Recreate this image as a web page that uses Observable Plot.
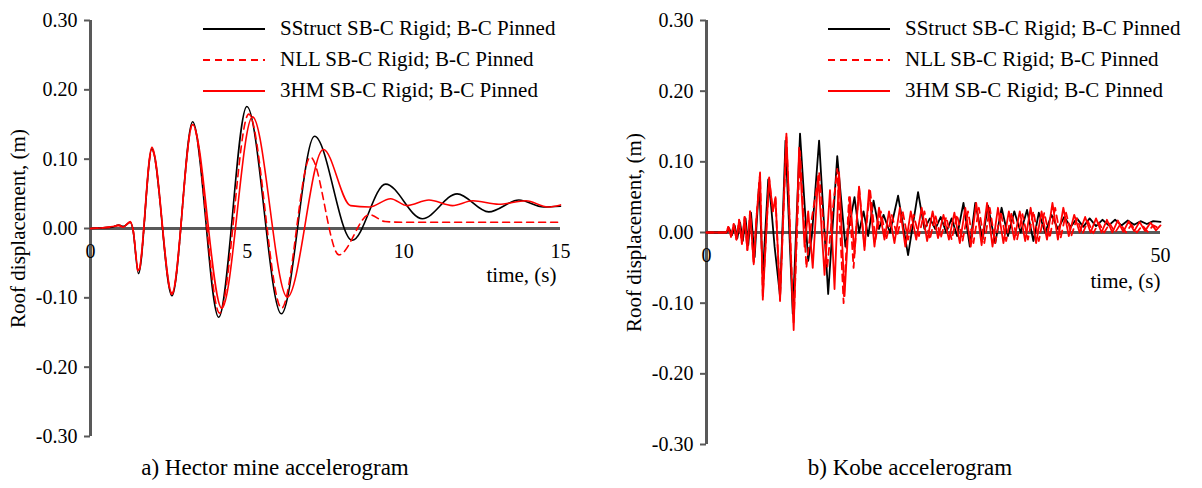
<!DOCTYPE html>
<html>
<head>
<meta charset="utf-8">
<script src="https://cdn.jsdelivr.net/npm/d3@7"></script>
<script src="https://cdn.jsdelivr.net/npm/@observablehq/plot@0.6"></script>
<style>
  html, body { margin: 0; padding: 0; background: #fff; }
  body { font-family: "Liberation Serif", "Times New Roman", serif; color: #000; }
  #wrap { position: relative; width: 1202px; height: 488px; overflow: hidden; }
  .panel { position: absolute; top: 0; width: 601px; height: 488px; }
  .panel svg { display: block; font-family: "Liberation Serif", "Times New Roman", serif !important; }
  .caption { position: absolute; top: 453px; font-size: 23px; line-height: 30px; white-space: nowrap; transform: translateX(-50%); }
  .legend { position: absolute; top: 13px; font-size: 21px; }
  .legend .row { display: flex; align-items: center; height: 31px; white-space: nowrap; }
  .legend svg { margin-right: 15px; }
</style>
</head>
<body>
<div id="wrap">
  <div class="panel" id="pa" style="left:0"></div>
  <div class="panel" id="pb" style="left:601px"></div>
</div>
<script>
// ---------- data ----------
const seriesNames = ["SStruct SB-C Rigid; B-C Pinned", "NLL SB-C Rigid; B-C Pinned", "3HM SB-C Rigid; B-C Pinned"];
const seriesColors = ["#000000", "#ff0000", "#ff0000"];
const seriesDash = [null, "7,5", null];
const yTicks = [-0.30, -0.20, -0.10, 0.00, 0.10, 0.20, 0.30];
const yTitle = "Roof displacement, (m)";
const xTitle = "time, (s)";

// a) Hector mine  [time (s), roof displacement (m)]
const hectorXTicks = [0, 5, 10, 15];
const hectorSStruct = [[0,0],[0.4,0.001],[0.7,0.002],[0.9,0.005],[1.05,0.003],[1.27,0.009],[1.35,0],[1.53,-0.065],[1.96,0.115],[2.6,-0.097],[3.26,0.154],[4.09,-0.128],[4.99,0.176],[6.09,-0.123],[7.15,0.133],[8.35,-0.017],[9.42,0.064],[10.59,0.014],[11.7,0.05],[12.71,0.024],[13.67,0.041],[14.46,0.031],[15,0.032]];
const hectorNLL = [[0,0],[0.4,0.001],[0.7,0.002],[0.9,0.005],[1.05,0.003],[1.27,0.009],[1.35,0],[1.53,-0.063],[1.96,0.113],[2.6,-0.095],[3.26,0.15],[4.12,-0.122],[5.05,0.165],[6.1,-0.115],[7.02,0.103],[7.93,-0.038],[8.9,0.02],[9.4,0.01],[10,0.009],[15,0.009]];
const hector3HM = [[0,0],[0.4,0.001],[0.7,0.003],[0.9,0.004],[1.05,0.002],[1.27,0.01],[1.35,0],[1.53,-0.06],[1.96,0.117],[2.6,-0.093],[3.26,0.15],[4.19,-0.115],[5.17,0.161],[6.28,-0.099],[7.43,0.114],[8.3,0.033],[8.9,0.031],[9.58,0.043],[10.1,0.033],[10.8,0.041],[11.55,0.033],[12.2,0.04],[13.03,0.035],[13.9,0.04],[14.6,0.031],[15,0.034]];

// b) Kobe  [time (s), roof displacement (m)]
const kobeXTicks = [0, 50];
const kobeSStruct = [[0,0],[2.2,0],[2.5,0.006],[2.8,-0.004],[3.1,0.01],[3.4,-0.008],[3.7,0.014],[4.0,-0.012],[4.3,0.02],[4.6,-0.018],[4.9,0.028],[5.3,-0.035],[5.8,0.07],[6.2,-0.06],[6.8,0.075],[7.1,0.04],[7.5,-0.02],[8.1,-0.09],[8.7,0.13],[9.5,-0.115],[10.3,0.14],[11.2,-0.04],[11.6,-0.005],[12.4,0.13],[13.4,-0.087],[14.4,0.108],[15.3,-0.02],[16.3,0.05],[16.8,0.0],[17.3,0.03],[17.8,-0.005],[18.4,0.045],[19.0,0.005],[19.5,0.025],[20.2,0.0],[21.1,0.052],[22.2,-0.032],[23.3,0.057],[24.0,0.005],[24.6,0.02],[25.2,0.005],[25.8,0.022],[26.4,0.0],[27.0,0.02],[27.6,-0.005],[28.3,0.042],[29.0,-0.02],[29.6,0.042],[30.4,-0.01],[31.0,0.038],[31.8,-0.015],[32.5,0.035],[33.2,-0.005],[33.9,0.03],[34.6,0.0],[35.3,0.032],[36.0,-0.012],[36.6,0.028],[37.3,0.0],[38.0,0.025],[38.7,0.005],[39.4,0.022],[40.1,0.008],[40.8,0.02],[41.5,0.008],[42.2,0.02],[42.9,0.009],[43.6,0.018],[44.3,0.01],[45.0,0.018],[45.7,0.01],[46.4,0.017],[47.1,0.011],[47.8,0.016],[48.5,0.012],[49.2,0.016],[50,0.015]];
const kobeNLL = [[0,0],[2.2,0],[2.4,0.008],[2.7,-0.006],[3.0,0.012],[3.3,-0.01],[3.6,0.018],[3.9,-0.016],[4.2,0.022],[4.5,-0.025],[4.8,0.03],[5.2,-0.045],[5.5,0.02],[5.9,0.083],[6.2,-0.09],[6.9,0.076],[7.3,0.03],[7.6,0.048],[8.1,-0.095],[8.8,0.135],[9.6,-0.13],[10.3,0.115],[11.0,-0.05],[11.6,0.02],[12.4,0.085],[13.3,-0.05],[13.8,0.02],[14.4,0.09],[15.1,-0.1],[15.7,0.05],[16.2,-0.05],[16.8,0.065],[17.4,-0.02],[18.0,0.062],[18.6,-0.01],[19.2,0.03],[19.8,-0.01],[20.4,0.025],[21.0,-0.005],[21.6,0.03],[22.2,-0.01],[22.8,0.025],[23.4,-0.005],[24.0,0.03],[24.6,-0.01],[25.2,0.025],[25.8,-0.008],[26.4,0.022],[27.0,-0.01],[27.6,0.025],[28.2,-0.012],[28.8,0.03],[29.4,-0.015],[30.0,0.035],[30.6,-0.015],[31.2,0.035],[31.8,-0.015],[32.4,0.03],[33.0,-0.012],[33.6,0.028],[34.2,-0.01],[34.8,0.026],[35.4,-0.01],[36.0,0.03],[36.6,-0.012],[37.2,0.028],[37.8,-0.008],[38.4,0.035],[39.0,-0.008],[39.6,0.028],[40.2,-0.004],[40.8,0.02],[41.4,-0.002],[42.0,0.016],[42.6,-0.001],[43.2,0.014],[43.8,0.0],[44.4,0.013],[45.0,0.0],[45.6,0.012],[46.2,0.0],[46.8,0.011],[47.4,0.0],[48.0,0.01],[48.6,0.001],[49.2,0.01],[50,0.005]];
const kobe3HM = [[0,0],[2.2,0],[2.4,0.008],[2.7,-0.006],[3.0,0.012],[3.3,-0.01],[3.6,0.018],[3.9,-0.016],[4.2,0.022],[4.5,-0.025],[4.8,0.03],[5.2,-0.045],[5.5,0.02],[5.9,0.085],[6.2,-0.095],[6.9,0.078],[7.3,0.03],[7.6,0.05],[8.1,-0.097],[8.8,0.14],[9.6,-0.138],[10.2,0.12],[10.8,-0.02],[11.2,0.03],[11.7,-0.05],[12.3,0.08],[13.0,-0.06],[13.6,0.06],[14.1,-0.08],[14.6,0.085],[15.2,-0.09],[15.8,0.05],[16.3,-0.03],[16.8,0.065],[17.4,-0.025],[17.9,0.06],[18.5,-0.02],[19.0,0.035],[19.6,-0.01],[20.1,0.03],[20.7,-0.015],[21.3,0.035],[21.9,-0.02],[22.5,0.03],[23.1,-0.01],[23.7,0.035],[24.3,-0.012],[24.9,0.03],[25.5,-0.008],[26.1,0.025],[26.7,-0.01],[27.3,0.028],[27.9,-0.015],[28.5,0.035],[29.1,-0.02],[29.7,0.042],[30.3,-0.018],[30.9,0.042],[31.5,-0.02],[32.1,0.035],[32.7,-0.015],[33.3,0.03],[33.9,-0.01],[34.5,0.03],[35.1,-0.012],[35.7,0.035],[36.3,-0.015],[36.9,0.03],[37.5,-0.01],[38.1,0.042],[38.7,-0.01],[39.3,0.035],[39.9,-0.005],[40.5,0.025],[41.1,0.0],[41.7,0.022],[42.3,0.0],[42.9,0.02],[43.5,0.0],[44.1,0.018],[44.7,0.0],[45.3,0.017],[45.9,0.001],[46.5,0.016],[47.1,0.002],[47.7,0.015],[48.3,0.002],[48.9,0.014],[49.5,0.003],[50,0.01]];

// ---------- drawing ----------
const AXIS = "#595959";
const SERIF = '"Liberation Serif", "Times New Roman", serif';
function toRows(arr, s) { return arr.map(([t, v]) => ({t, v, s})); }

function makePanel(cfg) {
  const lines = cfg.series.map((arr, i) => Plot.line(toRows(arr, i), {
    x: "t", y: "v", stroke: seriesColors[i], strokeWidth: cfg.lw,
    strokeDasharray: seriesDash[i] || undefined, curve: cfg.curve
  }));
  const xmax = cfg.xTicks[cfg.xTicks.length - 1];
  return Plot.plot({
    width: 601, height: 448,
    marginLeft: cfg.ml, marginRight: cfg.mr, marginTop: 20, marginBottom: cfg.mb,
    x: {type: "linear", domain: [0, xmax], axis: null},
    y: {type: "linear", domain: [-0.3, 0.3], axis: null},
    style: {fontFamily: SERIF, fontSize: "20px", color: "#000", background: "#fff", overflow: "visible"},
    marks: [
      Plot.ruleY([0], {x1: 0, x2: xmax, stroke: AXIS, strokeWidth: 3}),
      Plot.ruleX([0], {y1: -0.3, y2: 0.3, stroke: AXIS, strokeWidth: 3}),
      Plot.axisY(yTicks, {tickSize: 6, tickPadding: 7, stroke: AXIS, strokeWidth: 2, tickFormat: d => d.toFixed(2), fontSize: 20, fontFamily: SERIF, fill: "#000", label: null}),
      Plot.text([yTitle], {frameAnchor: "left", textAnchor: "middle", rotate: -90, dx: -72, fontSize: 21, fontFamily: SERIF, fill: "#000"}),
      ...lines,
      Plot.text(cfg.xTicks, {x: d => d, y: 0, dy: 23, text: d => String(d), fontSize: 20, fontFamily: SERIF, fill: "#000"}),
      Plot.text([xTitle], {x: xmax, y: 0, dx: cfg.xtDx, dy: cfg.xtDy, textAnchor: "end", fontSize: 21, fontFamily: SERIF, fill: "#000"})
    ]
  });
}

function makeLegend(left) {
  const div = document.createElement("div");
  div.className = "legend";
  div.style.left = left + "px";
  seriesNames.forEach((name, i) => {
    const row = document.createElement("div");
    row.className = "row";
    const dash = seriesDash[i] ? ` stroke-dasharray="${seriesDash[i]}"` : "";
    row.innerHTML = `<svg width="62" height="6"><line x1="0" y1="3" x2="62" y2="3" stroke="${seriesColors[i]}" stroke-width="1.8"${dash}/></svg><span>${name}</span>`;
    div.appendChild(row);
  });
  return div;
}

function caption(text, cx) {
  const d = document.createElement("div");
  d.className = "caption";
  d.style.left = cx + "px";
  d.textContent = text;
  return d;
}

const pa = document.getElementById("pa");
pa.appendChild(makePanel({series: [hectorSStruct, hectorNLL, hector3HM], xTicks: hectorXTicks, ml: 90, mr: 41, mb: 12, curve: "monotone-x", lw: 1.6, xtDx: -4, xtDy: 47}));
pa.appendChild(makeLegend(203));
pa.appendChild(caption("a) Hector mine accelerogram", 275));

const pb = document.getElementById("pb");
pb.appendChild(makePanel({series: [kobeSStruct, kobeNLL, kobe3HM], xTicks: kobeXTicks, ml: 105, mr: 42, mb: 4, curve: "linear", lw: 1.8, xtDx: 0, xtDy: 49}));
pb.appendChild(makeLegend(227));
pb.appendChild(caption("b) Kobe accelerogram", 309));
</script>
</body>
</html>
